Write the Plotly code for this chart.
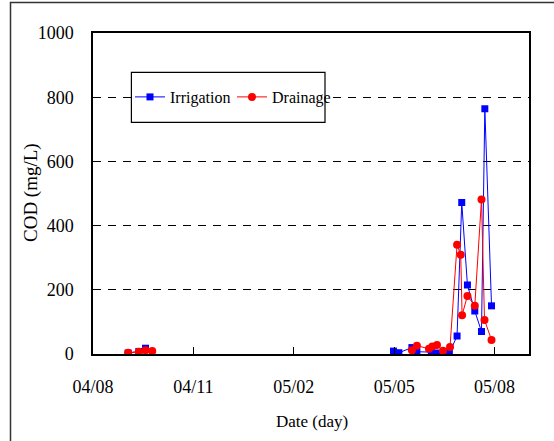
import plotly.graph_objects as go

# Axis tick labels (day index positions on a numeric axis)
tick_labels = ["04/08", "04/11", "05/02", "05/05", "05/08"]
tick_vals = [0, 3, 6, 9, 12]

# Irrigation COD (mg/L)
irr_x = [1.05, 1.37, 1.57, None, 8.98, 9.14, 9.53, 9.68, 10.11, 10.23, 10.35,
         10.47, 10.65, 10.88, 11.02, 11.19, 11.41, 11.61, 11.71, 11.91]
irr_y = [3, 8, 18, None, 9, 4, 20, 7, 6, 3, 2,
         2, 3, 56, 472, 215, 134, 70, 764, 150]

# Drainage COD (mg/L)
dr_x = [1.05, 1.37, 1.57, 1.77, None, 9.53, 9.68, 10.04, 10.14, 10.28, 10.46,
        10.67, 10.88, 10.99, 11.03, 11.19, 11.41, 11.61, 11.70, 11.91]
dr_y = [4, 7, 12, 9, None, 12, 26, 16, 23, 28, 10,
        22, 340, 309, 121, 181, 150, 481, 106, 44]

FONT = "Liberation Serif"

fig = go.Figure()
fig.add_trace(go.Scatter(
    x=irr_x, y=irr_y, name="Irrigation", mode="lines+markers",
    line=dict(color="#0000FF", width=1),
    marker=dict(symbol="square", size=7, color="#0000FF"),
    connectgaps=False))
fig.add_trace(go.Scatter(
    x=dr_x, y=dr_y, name="Drainage", mode="lines+markers",
    line=dict(color="#FF0000", width=1),
    marker=dict(symbol="circle", size=8, color="#FF0000"),
    connectgaps=False))

L, R, T, B = 93, 25, 33, 87
W, H = 554, 441
pw = W - L - R
ph = H - T - B

def px_x(p):
    return (p - L) / pw

def px_y(p):
    return (H - B - p) / ph

shapes = [
    # legend box
    dict(type="rect", xref="paper", yref="paper",
         x0=px_x(131.4), x1=px_x(325), y0=px_y(122.3), y1=px_y(72.3),
         fillcolor="white", line=dict(color="black", width=1.2), layer="above"),
    # outer frame (left and top edges)
    dict(type="path", xref="paper", yref="paper",
         path=f"M {px_x(10.5)},{px_y(445)} L {px_x(10.5)},{px_y(2.5)} L {px_x(560)},{px_y(2.5)}",
         line=dict(color="#333333", width=1.5)),
]

annotations = [
    dict(text="Date (day)", xref="paper", yref="paper",
         x=px_x(312), y=px_y(421), xanchor="center", yanchor="middle",
         showarrow=False, font=dict(family=FONT, size=17, color="black")),
    dict(text="COD (mg/L)", xref="paper", yref="paper",
         x=px_x(31), y=px_y(193), xanchor="center", yanchor="middle",
         textangle=-90, showarrow=False,
         font=dict(family=FONT, size=19, color="black")),
]

tickfont = dict(family=FONT, size=18, color="black")

fig.update_layout(
    width=W, height=H,
    margin=dict(l=L, r=R, t=T, b=B),
    paper_bgcolor="white", plot_bgcolor="white",
    font=dict(family=FONT, size=17, color="black"),
    showlegend=True,
    legend=dict(orientation="h", x=px_x(130), xanchor="left",
                y=px_y(97), yanchor="middle",
                bgcolor="rgba(0,0,0,0)", borderwidth=0,
                font=dict(family=FONT, size=16, color="black"),
                itemwidth=30, entrywidth=57, entrywidthmode="pixels"),
    shapes=shapes,
    annotations=annotations,
    xaxis=dict(
        range=[0, 13.03], tickvals=tick_vals, ticktext=tick_labels,
        tickfont=tickfont,
        ticks="inside", ticklen=7, tickcolor="black", tickwidth=1,
        showline=True, linecolor="black", linewidth=1.5, mirror=True,
        showgrid=False, zeroline=False, ticklabelstandoff=16,
        automargin=False),
    yaxis=dict(
        range=[0, 1000], dtick=200, tick0=0, tickfont=tickfont,
        ticks="", showline=True, linecolor="black", linewidth=1.5, mirror=True,
        showgrid=True, gridcolor="black", gridwidth=1, griddash="8px,7px",
        zeroline=False, ticklabelstandoff=14,
        automargin=False),
)

fig.write_html("out.html")
